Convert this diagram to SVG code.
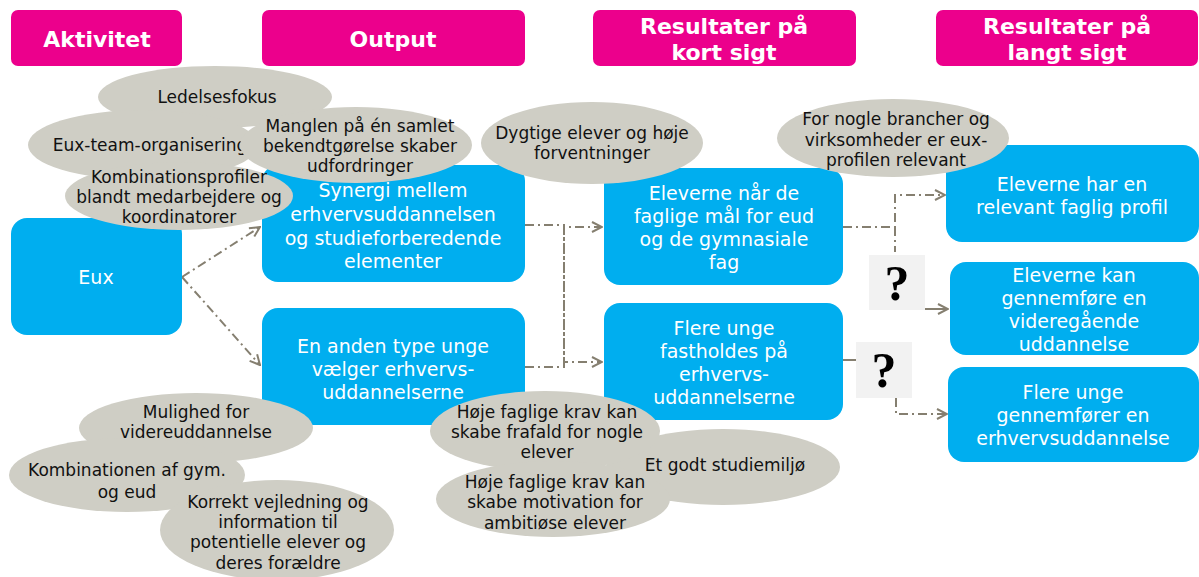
<svg xmlns="http://www.w3.org/2000/svg" width="1199" height="577" viewBox="0 0 1199 577">
<style>
.hdr{fill:#EC008C}
.hdrt{fill:#fff;font-family:"DejaVu Sans",Verdana,sans-serif;font-weight:bold;font-size:22px;text-anchor:middle;dominant-baseline:central}
.box{fill:#00AEEF}
.boxt{fill:#fff;font-family:"DejaVu Sans",Verdana,sans-serif;font-size:19px;text-anchor:middle;dominant-baseline:central}
.ell{fill:#CFCEC5}
.ellt{fill:#111;font-family:"DejaVu Sans",Verdana,sans-serif;font-size:17px;text-anchor:middle;dominant-baseline:central}
.q{fill:#F2F2F2}
.qt{fill:#000;font-family:"Liberation Serif","Times New Roman",serif;font-weight:bold;font-size:50px;text-anchor:middle;dominant-baseline:central}
.con{fill:none;stroke:#857F70;stroke-width:2;stroke-dasharray:9,4,2,4}
.solid{fill:none;stroke:#857F70;stroke-width:2}
</style>
<defs>
<marker id="arr" markerWidth="12" markerHeight="12" refX="11" refY="6" orient="auto" markerUnits="userSpaceOnUse">
<path d="M1,1 L11,6 L1,11" fill="none" stroke="#857F70" stroke-width="2"/>
</marker>
</defs>
<rect width="1199" height="577" fill="#fff"/>

<g id="headers">
<g id="h-aktivitet"><rect class="hdr" x="11" y="10" width="171" height="56" rx="7"/><text class="hdrt" x="97" y="39">Aktivitet</text></g>
<g id="h-output"><rect class="hdr" x="262" y="10" width="263" height="56" rx="7"/><text class="hdrt" x="393" y="39">Output</text></g>
<g id="h-kort"><rect class="hdr" x="593" y="10" width="263" height="56" rx="7"/><text class="hdrt" x="724" y="26">Resultater på</text><text class="hdrt" x="724" y="52">kort sigt</text></g>
<g id="h-langt"><rect class="hdr" x="936" y="10" width="262" height="56" rx="7"/><text class="hdrt" x="1067" y="26">Resultater på</text><text class="hdrt" x="1067" y="52">langt sigt</text></g>
</g>

<g id="connectors">
<path class="con" d="M182,277 L260,227" marker-end="url(#arr)"/>
<path class="con" d="M182,277 L260,365" marker-end="url(#arr)"/>
<path class="con" d="M525,225 H564 V362 H602" marker-end="url(#arr)"/>
<path class="con" d="M525,367 H564 V227 H602" marker-end="url(#arr)"/>
<path class="con" d="M843,227 H895 V195 H945" marker-end="url(#arr)"/>
<path class="con" d="M895,227 V252"/>
<path class="solid" d="M925,309 H948" marker-end="url(#arr)"/>
<path class="solid" d="M843,360 H856"/>
<path class="con" d="M896,398 V414 H947" marker-end="url(#arr)"/>
</g>

<g id="n-eux"><rect class="box" x="11" y="218" width="171" height="117" rx="16"/><text class="boxt" x="96" y="277">Eux</text></g>
<g id="n-synergi"><rect class="box" x="262" y="165" width="263" height="117" rx="16"/>
<text class="boxt" x="393" y="190">Synergi mellem</text><text class="boxt" x="393" y="214">erhvervsuddannelsen</text><text class="boxt" x="393" y="238">og studieforberedende</text><text class="boxt" x="393" y="261">elementer</text></g>
<g id="n-anden"><rect class="box" x="262" y="308" width="263" height="117" rx="16"/>
<text class="boxt" x="393" y="346">En anden type unge</text><text class="boxt" x="393" y="369">vælger erhvervs-</text><text class="boxt" x="393" y="392">uddannelserne</text></g>
<g id="n-naar"><rect class="box" x="604" y="168" width="239" height="117" rx="16"/>
<text class="boxt" x="724" y="193">Eleverne når de</text><text class="boxt" x="724" y="216">faglige mål for eud</text><text class="boxt" x="724" y="239">og de gymnasiale</text><text class="boxt" x="724" y="262">fag</text></g>
<g id="n-fasthold"><rect class="box" x="604" y="303" width="239" height="117" rx="16"/>
<text class="boxt" x="724" y="328">Flere unge</text><text class="boxt" x="724" y="351">fastholdes på</text><text class="boxt" x="724" y="374">erhvervs-</text><text class="boxt" x="724" y="397">uddannelserne</text></g>
<g id="n-profil"><rect class="box" x="946" y="145" width="253" height="97" rx="16"/>
<text class="boxt" x="1072" y="184">Eleverne har en</text><text class="boxt" x="1072" y="207">relevant faglig profil</text></g>
<g id="n-videre"><rect class="box" x="950" y="262" width="249" height="93" rx="16"/>
<text class="boxt" x="1074" y="275">Eleverne kan</text><text class="boxt" x="1074" y="298">gennemføre en</text><text class="boxt" x="1074" y="321">videregående</text><text class="boxt" x="1074" y="344">uddannelse</text></g>
<g id="n-gennemfoerer"><rect class="box" x="948" y="367" width="251" height="95" rx="16"/>
<text class="boxt" x="1073" y="392">Flere unge</text><text class="boxt" x="1073" y="415">gennemfører en</text><text class="boxt" x="1073" y="438">erhvervsuddannelse</text></g>

<g id="q1"><rect class="q" x="869" y="255" width="56" height="55"/><text class="qt" x="897" y="283">?</text></g>
<g id="q2"><rect class="q" x="856" y="342" width="56" height="56"/><text class="qt" x="884" y="370">?</text></g>

<g id="e-ledelse"><ellipse class="ell" cx="215" cy="97" rx="117" ry="31"/><text class="ellt" x="217" y="97">Ledelsesfokus</text></g>
<g id="e-euxteam"><ellipse class="ell" cx="143" cy="145" rx="115" ry="35"/><text class="ellt" x="150" y="145">Eux-team-organisering</text></g>
<g id="e-manglen"><ellipse class="ell" cx="356" cy="145" rx="116" ry="38"/>
<text class="ellt" x="360" y="126">Manglen på én samlet</text><text class="ellt" x="360" y="146">bekendtgørelse skaber</text><text class="ellt" x="360" y="166">udfordringer</text></g>
<g id="e-kombi"><ellipse class="ell" cx="179" cy="196" rx="114" ry="34"/>
<text class="ellt" x="179" y="177">Kombinationsprofiler</text><text class="ellt" x="179" y="197">blandt medarbejdere og</text><text class="ellt" x="179" y="217">koordinatorer</text></g>
<g id="e-dygtige"><ellipse class="ell" cx="592" cy="143" rx="111" ry="41"/>
<text class="ellt" x="592" y="133">Dygtige elever og høje</text><text class="ellt" x="592" y="153">forventninger</text></g>
<g id="e-brancher"><ellipse class="ell" cx="893" cy="138" rx="116" ry="39"/>
<text class="ellt" x="896" y="119">For nogle brancher og</text><text class="ellt" x="896" y="140">virksomheder er eux-</text><text class="ellt" x="896" y="160">profilen relevant</text></g>
<g id="e-mulighed"><ellipse class="ell" cx="196" cy="428" rx="117" ry="35"/>
<text class="ellt" x="196" y="412">Mulighed for</text><text class="ellt" x="196" y="432">videreuddannelse</text></g>
<g id="e-kombinationen"><ellipse class="ell" cx="127" cy="475" rx="118" ry="37"/>
<text class="ellt" x="127" y="470">Kombinationen af gym.</text><text class="ellt" x="127" y="492">og eud</text></g>
<g id="e-korrekt"><ellipse class="ell" cx="277" cy="530" rx="117" ry="50"/>
<text class="ellt" x="278" y="502">Korrekt vejledning og</text><text class="ellt" x="278" y="522">information til</text><text class="ellt" x="278" y="542">potentielle elever og</text><text class="ellt" x="278" y="563">deres forældre</text></g>
<g id="e-studiemiljo"><ellipse class="ell" cx="723" cy="467" rx="117" ry="38"/><text class="ellt" x="725" y="465">Et godt studiemiljø</text></g>
<g id="e-frafald"><ellipse class="ell" cx="545" cy="431" rx="115" ry="40"/>
<text class="ellt" x="547" y="412">Høje faglige krav kan</text><text class="ellt" x="547" y="432">skabe frafald for nogle</text><text class="ellt" x="547" y="452">elever</text></g>
<g id="e-motivation"><ellipse class="ell" cx="553" cy="499" rx="117" ry="38"/>
<text class="ellt" x="555" y="482">Høje faglige krav kan</text><text class="ellt" x="555" y="502">skabe motivation for</text><text class="ellt" x="555" y="523">ambitiøse elever</text></g>
</svg>
